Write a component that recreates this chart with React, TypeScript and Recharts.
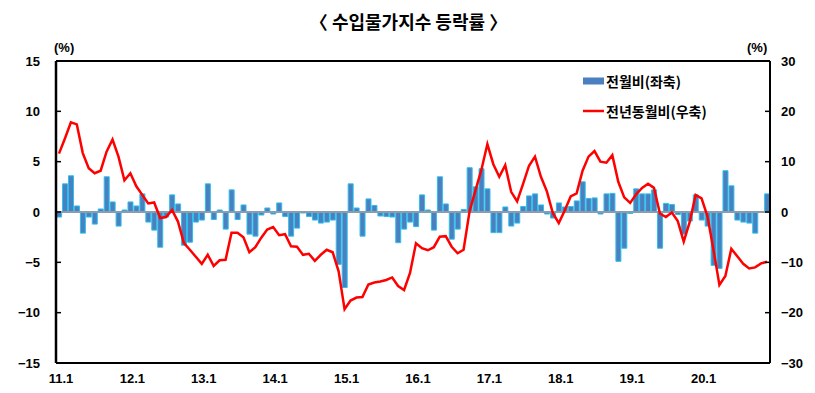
import React from "react";
import {
  ComposedChart,
  Bar,
  Line,
  XAxis,
  YAxis,
  ReferenceLine,
  Legend,
} from "recharts";

// 2011.1 ~ 2020.12, monthly
const years = [11, 12, 13, 14, 15, 16, 17, 18, 19, 20];

// 전월비 (%, left axis)
const momChange = [
  -0.5, 2.8, 3.6, 0.6, -2.1, -0.5, -1.2, 0.3, 3.5, 1.0, -1.4, 0.2,
  1.0, 0.6, 1.8, -1.0, -1.8, -3.5, -0.5, 1.7, 0.8, -3.3, -3.0, -1.0,
  -0.8, 2.8, -0.75, 0.2, -1.7, 2.2, -0.75, 0.7, -2.2, -2.4, -0.3, 0.4,
  -0.2, 0.9, -0.45, -2.4, -1.6, -0.1, -0.45, -0.8, -1.1, -1.0, -0.8, -5.2,
  -7.5, 2.8, 0.4, -2.4, 1.3, 0.65, -0.4, -0.45, -0.5, -3.05, -1.7, -1.0,
  -1.45, 1.7, 0.2, -1.8, 3.5, 0.8, -2.7, -1.7, 0.25, 4.4, 2.5, 4.3,
  2.3, -2.05, -2.05, 0.5, -1.4, -1.1, 0.55, 1.6, 1.8, 0.7, -0.2, -0.6,
  0.9, 0.5, 0.55, 1.1, 3.0, 1.35, 1.4, -0.2, 1.8, 1.85, -4.9, -3.6,
  -0.15, 2.3, 1.8, 1.8, 2.2, -3.6, 0.85, 0.75, -0.25, -2.2, -0.9, 1.7,
  -0.8, -1.4, -5.3, -5.6, 4.1, 2.6, -0.8, -1.0, -1.1, -2.1, 0.0, 1.8,
];

// 전년동월비 (%, right axis)
const yoyChange = [
  11.6, 14.6, 17.8, 17.4, 11.7, 8.7, 7.7, 8.2, 12.0, 14.4, 11.0, 6.3,
  7.7, 5.1, 3.4, 1.7, 1.9, -1.2, -1.0, 0.4, -1.9, -6.2, -7.5, -8.9,
  -10.3, -8.5, -10.7, -9.6, -9.5, -4.1, -4.1, -5.0, -8.0, -7.0, -5.1, -3.5,
  -3.0, -4.6, -4.4, -6.8, -6.9, -8.5, -8.3, -9.7, -8.5, -7.5, -8.0, -11.8,
  -19.3, -17.6, -17.0, -16.9, -14.4, -14.0, -13.8, -13.5, -13.0, -14.7, -15.5, -12.1,
  -6.2, -7.2, -7.6, -7.0, -4.9, -4.8, -6.9, -8.2, -7.5, 0.1, 4.3, 8.4,
  13.5, 9.5, 7.0, 9.3, 4.0, 2.1, 5.6, 9.2, 11.0, 7.0, 4.1, -0.2,
  -2.2, 0.3, 3.1, 3.7, 8.2, 11.0, 12.1, 10.0, 9.8, 11.3, 6.0, 2.9,
  1.8, 3.5, 4.8, 5.6, 4.8, -0.3, -1.0, -0.1, -1.8, -5.9, -2.0, 3.4,
  2.7, -0.9, -7.5, -14.5, -12.7, -7.3, -8.8, -10.3, -11.2, -11.0, -10.2, -9.9,
];

const leftTicks = [-15, -10, -5, 0, 5, 10, 15];
const rightTicks = [-30, -20, -10, 0, 10, 20, 30];

const categories = years.flatMap((y) =>
  Array.from({ length: 12 }, (_, k) => `${y}.${k + 1}`)
);
const yearTicks = years.map((y) => `${y}.1`);

const data = categories.map((m, i) => ({
  m,
  mom: momChange[i],
  yoy: yoyChange[i],
}));

const PLOT_LEFT = 56;
const PLOT_RIGHT = 770;

const numFont: React.CSSProperties = {
  fontFamily: "'Liberation Sans', Arial, sans-serif",
  fontWeight: 700,
  fontSize: 13,
  fill: "#000",
};
const krFont = "'Noto Sans CJK KR', 'Noto Sans', sans-serif";

const fmt = (v: number) => (v < 0 ? `\u2212${Math.abs(v)}` : `${v}`);

const LeftTick = (props: any) => {
  const { y, payload } = props;
  return (
    <g>
      <line x1={PLOT_LEFT} x2={PLOT_LEFT + 5} y1={y} y2={y} stroke="#000" strokeWidth={1.5} />
      <text x={40} y={y} dy={4.5} textAnchor="end" style={numFont}>
        {fmt(payload.value)}
      </text>
    </g>
  );
};

const RightTick = (props: any) => {
  const { y, payload } = props;
  return (
    <g>
      <line x1={PLOT_RIGHT - 5} x2={PLOT_RIGHT} y1={y} y2={y} stroke="#000" strokeWidth={1.5} />
      <text x={781} y={y} dy={4.5} textAnchor="start" style={numFont}>
        {fmt(payload.value)}
      </text>
    </g>
  );
};

const BottomTick = (props: any) => {
  const { x, payload } = props;
  return (
    <text x={x + 2} y={383} textAnchor="middle" style={numFont}>
      {payload.value}
    </text>
  );
};

const renderLegend = (props: any) => {
  // bars first, then the line
  const items = [...(props.payload || [])].sort(
    (a: any, b: any) => (a.type === "line" ? 1 : 0) - (b.type === "line" ? 1 : 0)
  );
  return (
    <div style={{ fontFamily: krFont, fontWeight: 700, fontSize: 14, color: "#000" }}>
      {items.map((it: any) => (
        <div
          key={it.value}
          style={{ display: "flex", alignItems: "center", height: 30, lineHeight: "30px" }}
        >
          <svg width={21} height={10} style={{ marginRight: 2 }}>
            {it.type === "line" ? (
              <line x1={0} x2={21} y1={5} y2={5} stroke="#ff0000" strokeWidth={2.5} />
            ) : (
              <rect x={0} y={1.5} width={21} height={7} fill="#4a80c0" />
            )}
          </svg>
          <span>{it.value}</span>
        </div>
      ))}
    </div>
  );
};

export default function App() {
  return (
    <div
      style={{
        position: "absolute",
        left: 0,
        top: 0,
        width: 815,
        height: 393,
        background: "#fff",
      }}
    >
      <div
        style={{
          position: "absolute",
          left: 0,
          top: 8,
          width: 817,
          textAlign: "center",
          fontFamily: krFont,
          fontWeight: 700,
          fontSize: 18,
          color: "#000",
        }}
      >
        〈 수입물가지수 등락률 〉
      </div>
      <div
        style={{
          position: "absolute",
          left: 54,
          top: 40,
          fontFamily: "'Liberation Sans', Arial, sans-serif",
          fontWeight: 700,
          fontSize: 13,
        }}
      >
        (%)
      </div>
      <div
        style={{
          position: "absolute",
          left: 747,
          top: 40,
          fontFamily: "'Liberation Sans', Arial, sans-serif",
          fontWeight: 700,
          fontSize: 13,
        }}
      >
        (%)
      </div>
      <ComposedChart
        width={815}
        height={393}
        data={data}
        margin={{ top: 61, right: 0, bottom: 0, left: 0 }}
        barCategoryGap="10%"
      >
        <XAxis
          dataKey="m"
          ticks={yearTicks}
          interval={0}
          height={30}
          axisLine={{ stroke: "#000", strokeWidth: 2 }}
          tickLine={false}
          tick={<BottomTick />}
        />
        <YAxis
          yAxisId="left"
          width={PLOT_LEFT}
          domain={[-15, 15]}
          ticks={leftTicks}
          interval={0}
          axisLine={{ stroke: "#000", strokeWidth: 2.5 }}
          tickLine={false}
          tick={<LeftTick />}
        />
        <YAxis
          yAxisId="right"
          orientation="right"
          width={815 - PLOT_RIGHT}
          domain={[-30, 30]}
          ticks={rightTicks}
          interval={0}
          axisLine={{ stroke: "#000", strokeWidth: 2 }}
          tickLine={false}
          tick={<RightTick />}
        />
        {/* top frame of the plot box */}
        <ReferenceLine yAxisId="left" y={15} stroke="#000" strokeWidth={2} />
        <ReferenceLine yAxisId="left" y={0} stroke="#8c9cab" strokeWidth={2} />
        <Bar
          yAxisId="left"
          dataKey="mom"
          name="전월비(좌축)"
          fill="#4a80c0"
          stroke="#2cc0ec"
          strokeWidth={1}
          legendType="rect"
          isAnimationActive={false}
        />
        <Line
          yAxisId="right"
          dataKey="yoy"
          name="전년동월비(우축)"
          type="linear"
          stroke="#ff0000"
          strokeWidth={2.5}
          dot={false}
          activeDot={false}
          legendType="line"
          isAnimationActive={false}
        />
        <Legend
          layout="vertical"
          align="center"
          verticalAlign="middle"
          content={renderLegend}
          wrapperStyle={{ position: "absolute", left: 583, top: 66, width: 200 }}
        />
      </ComposedChart>
    </div>
  );
}
